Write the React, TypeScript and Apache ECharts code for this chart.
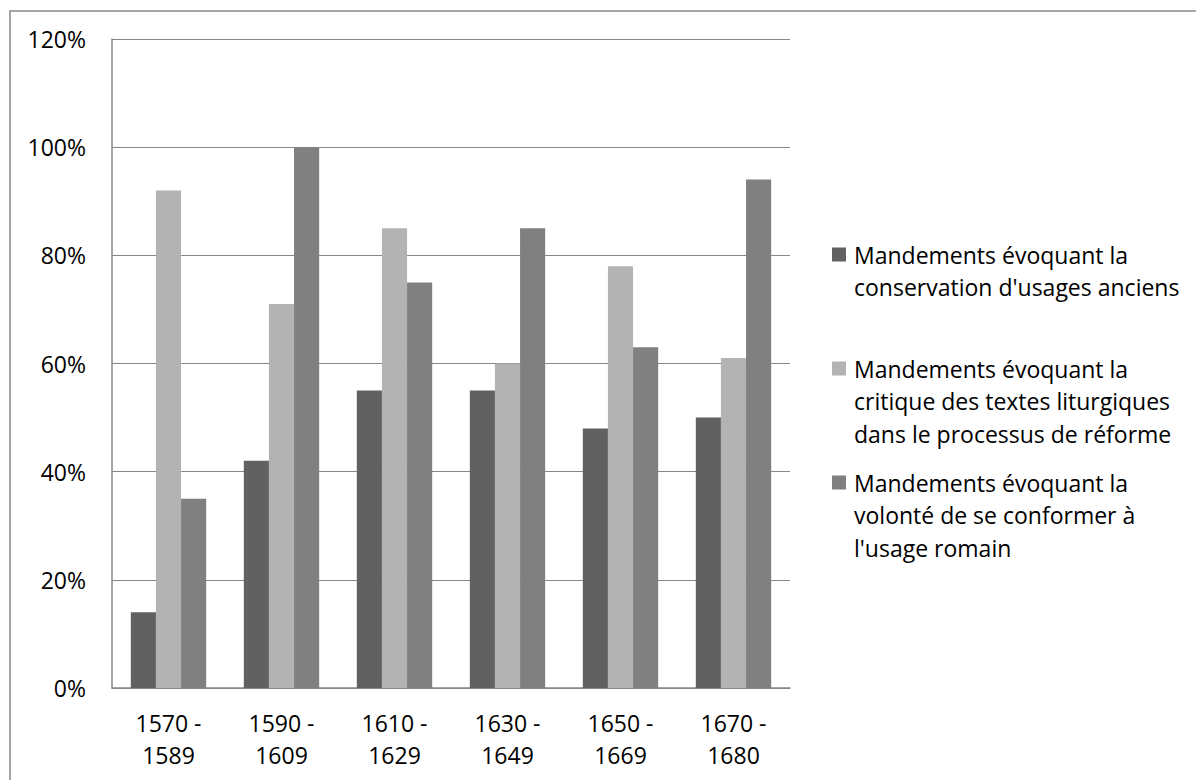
import React, { useEffect, useRef } from "react";
import * as echarts from "echarts";

const categories = ["1570 -\n1589", "1590 -\n1609", "1610 -\n1629", "1630 -\n1649", "1650 -\n1669", "1670 -\n1680"];
const seriesNames = [
  "Mandements évoquant la\nconservation d'usages anciens",
  "Mandements évoquant la\ncritique des textes liturgiques\ndans le processus de réforme",
  "Mandements évoquant la\nvolonté de se conformer à\nl'usage romain",
];
const conservation = [14, 42, 55, 55, 48, 50];
const critique = [92, 71, 85, 60, 78, 61];
const conformer = [35, 100, 75, 85, 63, 94];
const colors = ["#616161", "#b3b3b3", "#808080"];

const FONT = "Open Sans";
const FS = 23;
const LH = 32.7;
const legendCenters = [254.5, 368.5, 482.5];

export default function App() {
  const ref = useRef<HTMLDivElement>(null);
  useEffect(() => {
    document.body.style.margin = "0";
    const chart = echarts.init(ref.current!, null, { renderer: "svg" });
    const data = [conservation, critique, conformer];
    const legends = seriesNames.map((name, i) => {
      const n = name.split("\n").length;
      return {
        show: true,
        orient: "vertical",
        left: 832,
        top: legendCenters[i] - ((2 * n - 1) * LH) / 2,
        padding: 0,
        itemWidth: 14,
        itemHeight: 14,
        icon: "rect",
        selectedMode: false,
        data: [name],
        // leading blank lines keep the marker level with the first text line
        formatter: (s: string) => "\n".repeat(n - 1) + s,
        textStyle: {
          fontFamily: FONT,
          fontSize: FS,
          color: "#000",
          lineHeight: LH,
          padding: [0, 0, 0, 3],
        },
      };
    });
    chart.setOption({
      animation: false,
      color: colors,
      textStyle: { fontFamily: FONT },
      graphic: [
        {
          type: "polyline",
          shape: { points: [[10, 780], [10, 11], [1196, 11]] },
          style: { stroke: "#898989", lineWidth: 1.5, fill: null },
          silent: true,
        },
      ],
      legend: legends,
      grid: { left: 112, right: 406, top: 39, bottom: 92, containLabel: false },
      xAxis: {
        type: "category",
        data: categories,
        axisTick: { show: false },
        axisLine: { show: true, lineStyle: { color: "#868686", width: 1.5 } },
        axisLabel: {
          fontFamily: FONT,
          fontSize: FS,
          color: "#000",
          lineHeight: 32,
          margin: 19,
          interval: 0,
        },
      },
      yAxis: {
        type: "value",
        min: 0,
        max: 120,
        interval: 20,
        axisLine: { show: true, lineStyle: { color: "#868686", width: 1.5 } },
        axisTick: { show: false },
        splitLine: { show: true, lineStyle: { color: "#868686", width: 1 } },
        axisLabel: {
          fontFamily: FONT,
          fontSize: FS,
          color: "#000",
          margin: 26,
          formatter: "{value}%",
        },
      },
      series: seriesNames.map((name, i) => ({
        name,
        type: "bar",
        data: data[i],
        barGap: "0%",
        barCategoryGap: "33.3%",
        itemStyle: { color: colors[i] },
      })),
    });
    return () => chart.dispose();
  }, []);
  return <div ref={ref} style={{ width: 1196, height: 780 }} />;
}
